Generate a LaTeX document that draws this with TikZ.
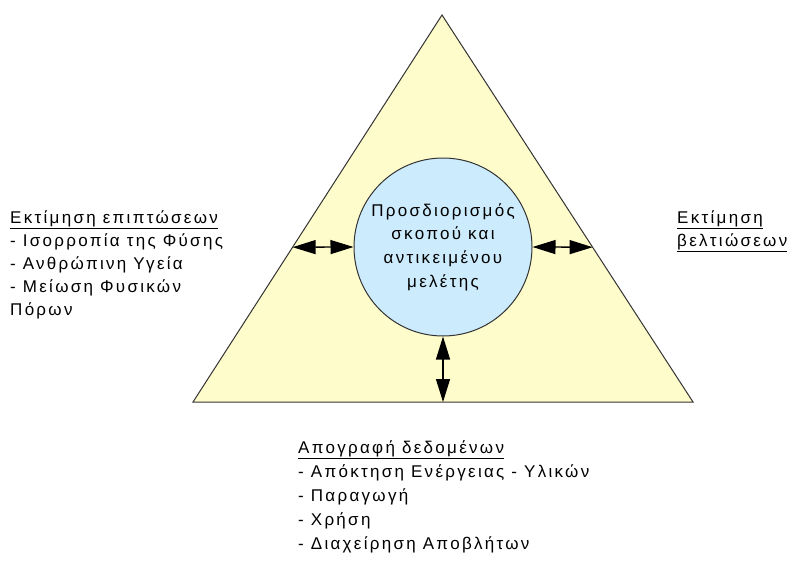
\documentclass[tikz,border=0pt]{standalone}
\usepackage{fontspec}
\setmainfont[LetterSpace=13.5]{Liberation Sans}
\usetikzlibrary{arrows.meta,calc}
\definecolor{triyellow}{HTML}{FFFCCC}
\definecolor{goalblue}{HTML}{CCEBFC}

\begin{document}
\begin{tikzpicture}[x=1pt, y=-1pt,
  txt/.style={align=left, anchor=north west, inner sep=0pt, font=\fontsize{17}{23}\selectfont},
  twoway/.style={{Triangle[length=23pt,width=14pt]}-{Triangle[length=23pt,width=14pt]}, line width=1.3pt}]
  \useasboundingbox (0,0) rectangle (792,562);
  \coordinate (apex) at (442,15);
  \coordinate (bl) at (193,402);
  \coordinate (br) at (693,402);
  \draw[fill=triyellow, draw=black!80, line width=1pt] (apex) -- (bl) -- (br) -- cycle;

  \node[circle, draw=black!80, fill=goalblue, minimum size=178pt, inner sep=0pt, align=center,
        line width=1pt, font=\fontsize{17}{23.7}\selectfont] (goal) at (443,247)
        {Προσδιορισμός\\σκοπού και\\αντικειμένου\\μελέτης};

  \coordinate (lp) at ($(apex)!0.6!(bl)$);
  \coordinate (rp) at ($(apex)!0.6!(br)$);
  \coordinate (bp) at ($(bl)!0.5!(br)$);
  \draw[twoway] (lp) -- (goal.west);
  \draw[twoway] (goal.east) -- (rp);
  \draw[twoway] (goal.south) -- (bp);

  \node[txt] (impact) at (10,210) {\underline{Εκτίμηση επιπτώσεων}\\- Ισορροπία της Φύσης\\- Ανθρώπινη Υγεία\\- Μείωση Φυσικών\\Πόρων};
  \node[txt] (improve) at (677,210) {\underline{Εκτίμηση}\\\underline{βελτιώσεων}};
  \node[txt, font=\fontsize{17}{24.2}\selectfont] (data) at (298,440) {\underline{Απογραφή δεδομένων}\\- Απόκτηση Ενέργειας - Υλικών\\- Παραγωγή\\- Χρήση\\- Διαχείρηση Αποβλήτων};
\end{tikzpicture}
\end{document}
